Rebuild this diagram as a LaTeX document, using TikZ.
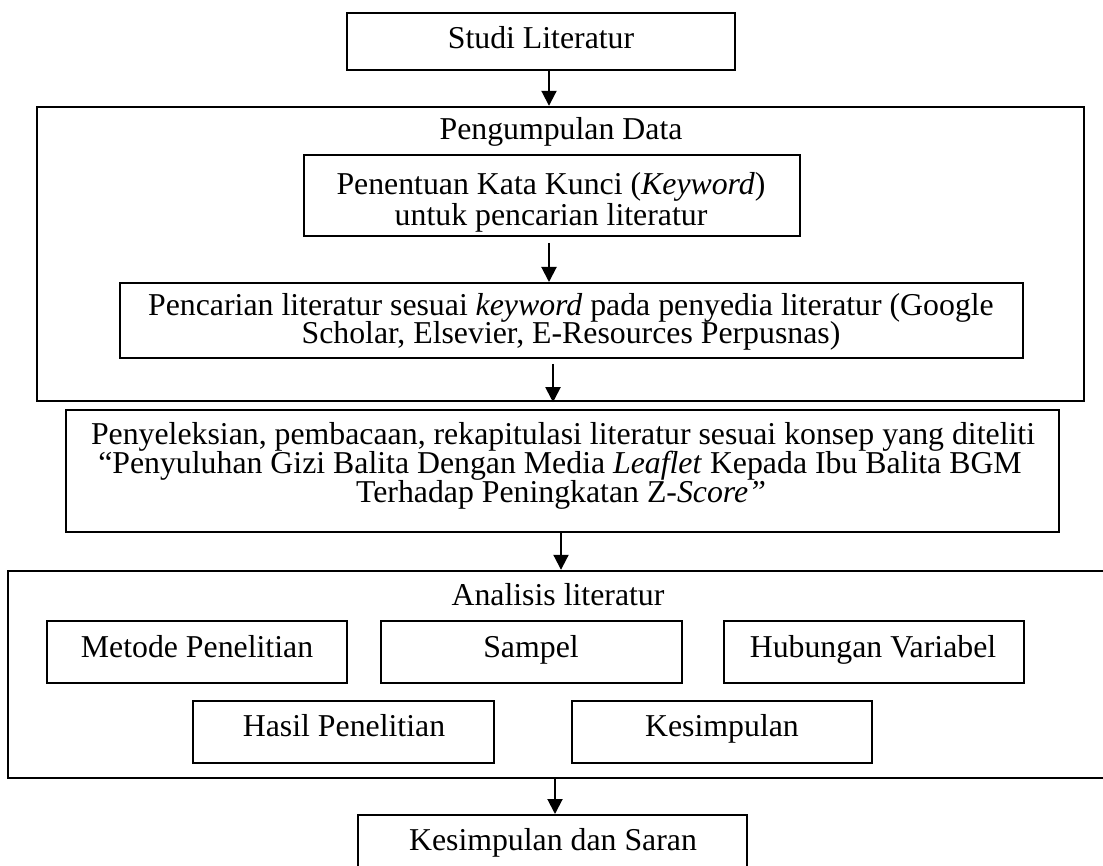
\documentclass[tikz,border=0pt]{standalone}
\usepackage{fontspec}
\setmainfont{Liberation Serif}
\usetikzlibrary{arrows.meta}
\begin{document}
\begin{tikzpicture}[x=1pt,y=-1pt,
  box/.style={draw,rectangle,line width=2pt,inner sep=0pt},
  outer/.style={box,line width=2.4pt},
  txt/.style={anchor=base,inner sep=0pt,font=\fontsize{31.8pt}{29pt}\selectfont},
  arr/.style={-{Triangle[width=15pt,length=15pt]},line width=2pt}]
\useasboundingbox (0,0) rectangle (1103,866);
% boxes
\node[box,minimum width=388pt,minimum height=57pt] (studi) at (541,41.5) {};
\node[outer,minimum width=1047pt,minimum height=294pt] (peng) at (560.5,254) {};
\node[box,minimum width=496pt,minimum height=81pt] (penentuan) at (552,195.5) {};
\node[box,minimum width=903pt,minimum height=75pt] (pencarian) at (571.5,320.5) {};
\node[box,minimum width=993pt,minimum height=122pt] (penyel) at (562.5,471) {};
\node[outer,minimum width=1098pt,minimum height=207pt] (analisis) at (557,674.5) {};
\node[box,minimum width=300pt,minimum height=62pt] (metode) at (197,652) {};
\node[box,minimum width=301pt,minimum height=62pt] (sampel) at (531.5,652) {};
\node[box,minimum width=300pt,minimum height=62pt] (hubungan) at (874,652) {};
\node[box,minimum width=301pt,minimum height=62pt] (hasil) at (343.5,732) {};
\node[box,minimum width=300pt,minimum height=62pt] (kesimpulan) at (722,732) {};
\node[box,minimum width=389pt,minimum height=60pt] (saran) at (552.5,845) {};
% texts
\node[txt] (tStudi) at (541,49) {Studi Literatur};
\node[txt] (tPeng) at (561,140) {Pengumpulan Data};
\node[txt] (tPen1) at (551,195) {Penentuan Kata Kunci (\textit{Keyword})};
\node[txt] (tPen2) at (551,226) {untuk pencarian literatur};
\node[txt] (tCar1) at (571,315.5) {Pencarian literatur sesuai \textit{keyword} pada penyedia literatur (Google};
\node[txt] (tCar2) at (571,344) {Scholar, Elsevier, E-Resources Perpusnas)};
\node[txt] (tSel1) at (563,444) {Penyeleksian, pembacaan, rekapitulasi literatur sesuai konsep yang diteliti};
\node[txt] (tSel2) at (560,473) {“Penyuluhan Gizi Balita Dengan Media \textit{Leaflet} Kepada Ibu Balita BGM};
\node[txt] (tSel3) at (561,502) {Terhadap Peningkatan Z-\textit{Score”}};
\node[txt] (tAna) at (558,605) {Analisis literatur};
\node[txt] (tMet) at (197,657) {Metode Penelitian};
\node[txt] (tSam) at (531,657) {Sampel};
\node[txt] (tHub) at (873,657) {Hubungan Variabel};
\node[txt] (tHas) at (344,736) {Hasil Penelitian};
\node[txt] (tKes) at (722,736) {Kesimpulan};
\node[txt] (tSar) at (553,850) {Kesimpulan dan Saran};
% arrow x positions
\coordinate (xa) at (549,0);
\coordinate (xb) at (549,0);
\coordinate (xc) at (553,0);
\coordinate (xd) at (561,0);
\coordinate (xe) at (555,0);
% connectors
\draw[arr] (studi.south -| xa) -- (peng.north -| xa);
\draw[arr,shorten <=6pt] (penentuan.south -| xb) -- (pencarian.north -| xb);
\draw[arr,shorten <=5pt] (pencarian.south -| xc) -- (peng.south -| xc);
\draw[arr] (penyel.south -| xd) -- (analisis.north -| xd);
\draw[arr] (analisis.south -| xe) -- (saran.north -| xe);
\end{tikzpicture}
\end{document}
